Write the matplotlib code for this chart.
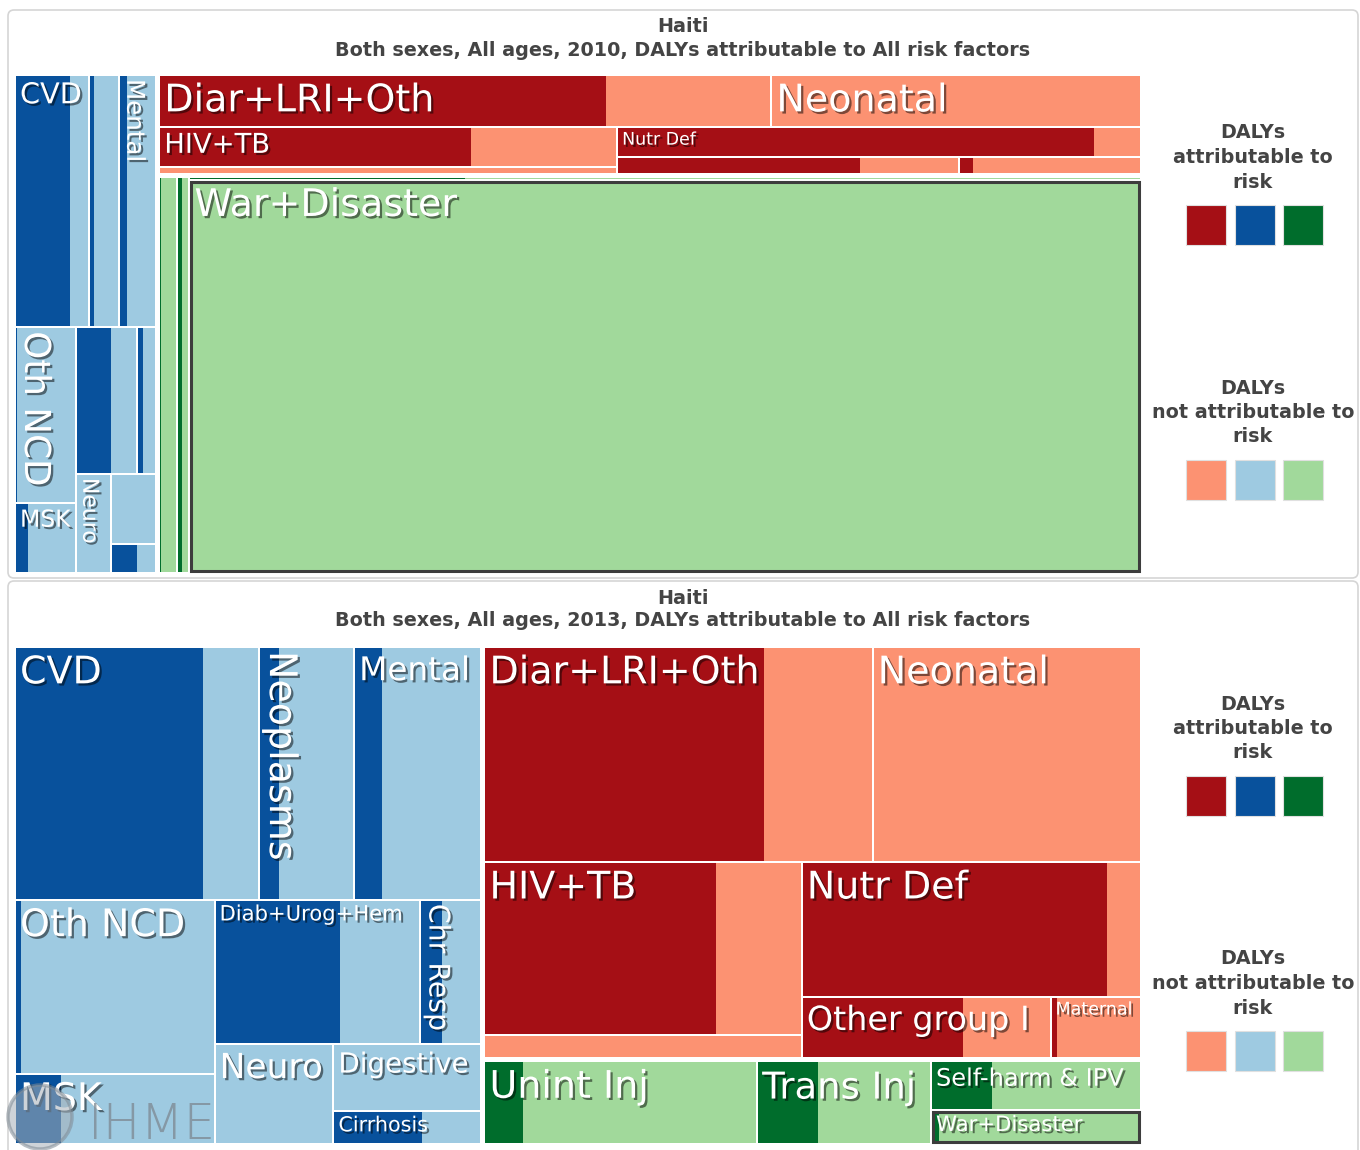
import matplotlib
matplotlib.use("Agg")
import matplotlib.pyplot as plt
import matplotlib.patheffects as pe
from matplotlib.patches import Rectangle, FancyBboxPatch, Circle

# causes, in the order used by the value lists
causes = ["CVD", "Neoplasms", "Mental", "Oth NCD", "MSK", "Diab+Urog+Hem",
          "Chr Resp", "Neuro", "Digestive", "Cirrhosis",
          "Diar+LRI+Oth", "Neonatal", "HIV+TB", "NTD+Malaria", "Nutr Def",
          "Other group I", "Maternal",
          "Unint Inj", "Trans Inj", "Self-harm & IPV", "War+Disaster"]

ncd_causes = causes[:10]
group1_causes = causes[10:17]
injury_causes = causes[17:]

# relative DALYs
values_2010 = [186, 76, 93, 107, 43, 89, 28, 34, 32, 13,
               318, 192, 183, 32, 157, 58, 31,
               72, 48, 28, 3752]
values_2013 = [615, 240, 321, 346, 140, 297, 88, 118, 98, 49,
               838, 579, 552, 73, 458, 154, 56,
               226, 144, 103, 71]

# share of each cause attributable to risk factors
attrib_2010 = [0.74, 0.17, 0.20, 0.03, 0.22, 0.57, 0.32, 0.0, 0.0, 0.57,
               0.73, 0.0, 0.68, 0.0, 0.91, 0.71, 0.08,
               0.08, 0.35, 0.29, 0.0]
attrib_2013 = [0.77, 0.21, 0.22, 0.03, 0.23, 0.61, 0.36, 0.01, 0.0, 0.60,
               0.72, 0.0, 0.73, 0.0, 0.90, 0.65, 0.07,
               0.14, 0.35, 0.29, 0.04]

labels_2010 = ["CVD", "Mental", "Oth NCD", "MSK", "Neuro", "Diar+LRI+Oth",
               "Neonatal", "HIV+TB", "Nutr Def", "War+Disaster"]
labels_2013 = [c for c in causes if c != "NTD+Malaria"]

# nesting of the treemap: (direction, children, gap between children)
TREE = ("h", [
    ("v", [
        ("h", ["CVD", "Neoplasms", "Mental"], 0),
        ("h", [("v", ["Oth NCD", "MSK"], 0),
               ("v", [("h", ["Diab+Urog+Hem", "Chr Resp"], 0),
                      ("h", ["Neuro", ("v", ["Digestive", "Cirrhosis"], 0)], 0)], 0)], 0),
    ], 0),
    ("v", [
        ("v", [("h", ["Diar+LRI+Oth", "Neonatal"], 0),
               ("h", [("v", ["HIV+TB", "NTD+Malaria"], 0),
                      ("v", ["Nutr Def", ("h", ["Other group I", "Maternal"], 0)], 0)], 0)], 0),
        ("h", ["Unint Inj", "Trans Inj", ("v", ["Self-harm & IPV", "War+Disaster"], 0)], 0),
    ], 3),
], 3)

DARK = {"red": "#a50f15", "blue": "#08519c", "green": "#006d2c"}
LIGHT = {"red": "#fc9272", "blue": "#9ecae1", "green": "#a1d99b"}
TEXT_GREY = "#444444"
EM = 100 / 72.0          # pixels per point
CAP_PX = 38.0            # biggest label, in pixels per em


def group_of(name):
    if name in ncd_causes:
        return "blue"
    if name in group1_causes:
        return "red"
    return "green"


def node_total(node, vals):
    if isinstance(node, str):
        return vals[node]
    return sum(node_total(k, vals) for k in node[1])


def layout(node, x, y, w, h, vals, out):
    if isinstance(node, str):
        out[node] = (x, y, w, h)
        return
    direction, kids, gap = node
    total = node_total(node, vals)
    span = (w if direction == "h" else h) - gap * (len(kids) - 1)
    pos = 0.0
    for k in kids:
        size = span * node_total(k, vals) / total
        if direction == "h":
            layout(k, x + pos, y, size, h, vals, out)
        else:
            layout(k, x, y + pos, w, size, vals, out)
        pos += size + gap


def draw_label(ax, renderer, name, x, y, w, h):
    probe = ax.text(0, 0, name, fontsize=10)
    px_per_pt = probe.get_window_extent(renderer).width / 10.0
    probe.remove()
    h_em = min(CAP_PX, (0.92 * w - 6) / px_per_pt * EM, h - 12.5)
    v_em = min(CAP_PX, (0.92 * h - 6) / px_per_pt * EM, w - 12.5)
    fx = [pe.withSimplePatchShadow(offset=(1.6, -1.6), shadow_rgbFace="black", alpha=0.5)]
    if h_em >= 16:
        ax.text(x + 5, y + 0.22 * h_em, name, fontsize=h_em / EM, color="white",
                ha="left", va="top", path_effects=fx, zorder=5)
    else:
        ax.text(x + 3, y + 4, name, fontsize=v_em / EM, color="white", rotation=-90,
                rotation_mode="anchor", ha="left", va="bottom", path_effects=fx, zorder=5)


def draw_treemap(ax, renderer, box, values, attrib, labels):
    vals = dict(zip(causes, values))
    frac = dict(zip(causes, attrib))
    cells = {}
    x0, y0, x1, y1 = box
    layout(TREE, x0, y0, x1 - x0, y1 - y0, vals, cells)
    inset = 1.0
    for name in causes:
        x, y, w, h = cells[name]
        g = group_of(name)
        ax.add_patch(Rectangle((x + inset, y + inset), w - 2 * inset, max(h - 2 * inset, 0.6),
                               facecolor=LIGHT[g], edgecolor="none", zorder=2))
        dw = frac[name] * w - inset
        if dw > 0:
            ax.add_patch(Rectangle((x + inset, y + inset), dw, max(h - 2 * inset, 0.6),
                                   facecolor=DARK[g], edgecolor="none", zorder=3))
        if name == "War+Disaster":
            ax.add_patch(Rectangle((x + 2, y + 2), w - 4, h - 4, fill=False,
                                   edgecolor="#3d3d3d", linewidth=2.2, zorder=4))
        if name in labels:
            draw_label(ax, renderer, name, x, y, w, h)


def draw_legend(ax, top):
    blocks = [(["DALYs", "attributable to", "risk"], DARK, top),
              (["DALYs", "not attributable to", "risk"], LIGHT, top + 255)]
    for lines, pal, ty in blocks:
        for i, line in enumerate(lines):
            ax.text(1253, ty + i * 24.5, line, ha="center", va="center", fontsize=13.8,
                    fontweight="bold", color=TEXT_GREY)
        for j, key in enumerate(["red", "blue", "green"]):
            ax.add_patch(Rectangle((1186 + j * 48.5, ty + 72), 40, 40, facecolor=pal[key],
                                   edgecolor="#e0e0e0", linewidth=0.8))


fig = plt.figure(figsize=(13.6, 11.5), dpi=100)
ax = fig.add_axes([0, 0, 1, 1])
ax.set_xlim(0, 1360)
ax.set_ylim(1150, 0)
ax.axis("off")
renderer = fig.canvas.get_renderer()

panels = [
    (10, 2010, values_2010, attrib_2010, labels_2010, (15, 75, 1141, 573)),
    (581, 2013, values_2013, attrib_2013, labels_2013, (15, 647, 1141, 1144)),
]
for ptop, year, vals, att, labs, box in panels:
    ax.add_patch(FancyBboxPatch((8, ptop), 1350, 568 if year == 2010 else 600,
                                boxstyle="round,pad=0,rounding_size=6",
                                facecolor="white", edgecolor="#d5d5d5", linewidth=1.2, zorder=0))
    ax.text(683, ptop + 17, "Haiti", ha="center", va="center", fontsize=13.8,
            fontweight="bold", color=TEXT_GREY)
    ax.text(683, ptop + 40, f"Both sexes, All ages, {year}, DALYs attributable to All risk factors",
            ha="center", va="center", fontsize=13.8, fontweight="bold", color=TEXT_GREY)
    draw_treemap(ax, renderer, box, vals, att, labs)
    draw_legend(ax, ptop + 123)

# IHME watermark
ax.add_patch(Circle((40, 1117), 32, facecolor="#a7b0b8", edgecolor="#7f8a94",
                    linewidth=2.5, alpha=0.55, zorder=6))
ax.text(88, 1149, "IHME", fontsize=36, color="#7d8891", alpha=0.75,
        fontweight="light", ha="left", va="bottom", zorder=6)

fig.savefig("out.png", dpi=100)
